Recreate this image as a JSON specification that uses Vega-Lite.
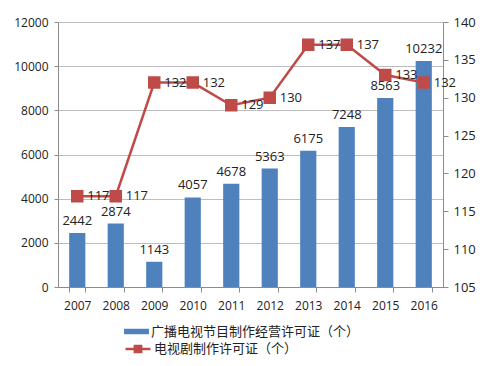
{
  "$schema": "https://vega.github.io/schema/vega-lite/v6.json",
  "width": 385,
  "height": 265,
  "autosize": {"type": "none"},
  "padding": {"left": 58, "top": 22, "right": 49, "bottom": 79},
  "background": "white",
  "config": {
    "font": "Open Sans",
    "view": {"stroke": null},
    "axis": {"labelFont": "Open Sans", "labelColor": "#222", "labelFontSize": 12, "domainColor": "#8C8C8C", "tickColor": "#8C8C8C", "gridColor": "#BDBDBD", "labelOverlap": false, "labelFlush": false},
    "legend": {"labelFont": "Noto Sans CJK SC", "labelFontSize": 13, "labelColor": "#222", "labelLimit": 400}
  },
  "data": {"values": [
    {"year": "2007", "a": 2442, "b": 117},
    {"year": "2008", "a": 2874, "b": 117},
    {"year": "2009", "a": 1143, "b": 132},
    {"year": "2010", "a": 4057, "b": 132},
    {"year": "2011", "a": 4678, "b": 129},
    {"year": "2012", "a": 5363, "b": 130},
    {"year": "2013", "a": 6175, "b": 137},
    {"year": "2014", "a": 7248, "b": 137},
    {"year": "2015", "a": 8563, "b": 133},
    {"year": "2016", "a": 10232, "b": 132}
  ]},
  "encoding": {
    "x": {"field": "year", "type": "nominal", "title": null, "sort": null,
      "scale": {"paddingInner": 0.58, "paddingOuter": 0.29},
      "axis": {"labelAngle": 0, "tickBand": "extent", "tickSize": 5, "labelPadding": 8, "domainColor": "#8C8C8C"}}
  },
  "layer": [
    {
      "encoding": {
        "y": {"field": "a", "type": "quantitative", "title": null,
          "scale": {"domain": [0, 12000]},
          "axis": {"values": [0, 2000, 4000, 6000, 8000, 10000, 12000], "tickSize": 4, "labelPadding": 6, "grid": true, "format": "d", "labelOverlap": false}}
      },
      "layer": [
        {
          "mark": {"type": "bar", "color": "#4F81BD"},
          "encoding": {
            "fill": {"datum": "广播电视节目制作经营许可证（个）", "type": "nominal",
              "scale": {"range": ["#4F81BD"]},
              "legend": {"title": null, "orient": "none", "legendX": 66, "legendY": 297, "symbolType": "M-1,-0.22H1V0.22H-1Z", "symbolSize": 620, "symbolStrokeWidth": 0, "labelOffset": 2}}
          }
        },
        {
          "mark": {"type": "text", "dy": -12, "fontSize": 13, "color": "#222", "font": "Open Sans"},
          "encoding": {
            "text": {"field": "a", "type": "quantitative", "format": "d"}
          }
        }
      ]
    },
    {
      "encoding": {
        "y": {"field": "b", "type": "quantitative", "title": null,
          "scale": {"domain": [105, 140]},
          "axis": {"orient": "right", "values": [105, 110, 115, 120, 125, 130, 135, 140], "tickSize": 5, "labelPadding": 5, "grid": false, "labelFontSize": 13, "labelOverlap": false}}
      },
      "layer": [
        {
          "mark": {"type": "line", "strokeWidth": 2.5, "color": "#BE4B48", "point": {"shape": "square", "size": 110, "filled": true, "color": "#BE4B48"}},
          "encoding": {
            "stroke": {"datum": "电视剧制作许可证（个）", "type": "nominal",
              "scale": {"range": ["#BE4B48"]},
              "legend": {"title": null, "orient": "none", "legendX": 66, "legendY": 313, "symbolType": "M-1,0H1M-0.25,-0.25H0.25V0.25H-0.25Z", "symbolSize": 620, "symbolStrokeWidth": 2.5, "symbolFillColor": "#BE4B48", "labelOffset": 2}}
          }
        },
        {
          "mark": {"type": "text", "dx": 10, "align": "left", "fontSize": 13, "color": "#222", "font": "Open Sans"},
          "encoding": {
            "text": {"field": "b", "type": "quantitative"}
          }
        }
      ]
    }
  ],
  "resolve": {"scale": {"y": "independent", "fill": "independent", "stroke": "independent"}, "legend": {"fill": "independent", "stroke": "independent"}}
}
